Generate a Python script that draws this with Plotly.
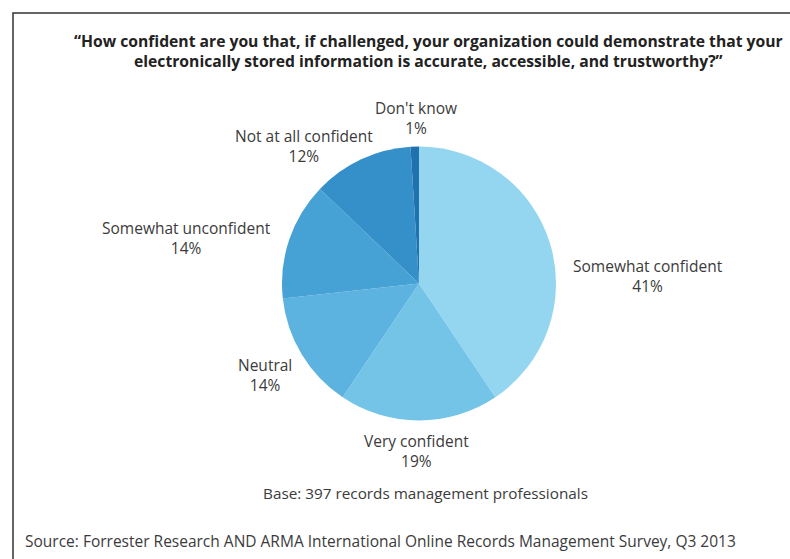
import plotly.graph_objects as go

W, H = 790, 559

categories = ["Somewhat confident", "Very confident", "Neutral",
              "Somewhat unconfident", "Not at all confident", "Don't know"]
values = [41, 19, 14, 14, 12, 1]
colors = ["#94d5ef", "#74c4e8", "#5cb3df", "#46a2d5", "#3590ca", "#1f72ae"]

title_lines = ["\u201cHow confident are you that, if challenged, your organization could demonstrate that your",
               "electronically stored information is accurate, accessible, and trustworthy?\u201d"]
base_note = "Base: 397 records management professionals"
source_note = "Source: Forrester Research AND ARMA International Online Records Management Survey, Q3 2013"

# label block centres in pixels (midpoint between the two lines)
label_pos = [(648, 276), (416, 451), (265, 375), (186, 238), (304, 146), (416, 118)]

def px(x):
    return x / W

def py(y):
    return 1 - y / H

FONT = "Open Sans"
TXT = "#3b3b3b"

fig = go.Figure()
fig.add_trace(go.Pie(
    labels=categories, values=values, sort=False, direction="clockwise",
    rotation=0, marker=dict(colors=colors, line=dict(width=0)),
    textinfo="none", hoverinfo="label+percent", showlegend=False,
    domain=dict(x=[px(282), px(556)], y=[py(421), py(146)]),
))

annotations = []

def add_text(x, y, text, size, color=TXT, anchor="center"):
    annotations.append(dict(
        x=px(x), y=py(y), xref="paper", yref="paper", text=text,
        showarrow=False, xanchor=anchor, yanchor="middle", align="center",
        borderpad=0,
        font=dict(family=FONT, size=size, color=color),
    ))

for (cx, cy), cat, v in zip(label_pos, categories, values):
    add_text(cx, cy, f"{cat}<br>{v}%", 15.5)

add_text(428, 51, "<b>" + "<br>".join(title_lines) + "</b>", 15.7, color="#222222")

add_text(425, 493, base_note, 15.3)
add_text(24, 541, source_note, 15.5, anchor="left")

fig.update_layout(
    width=W, height=H, margin=dict(l=0, r=0, t=0, b=0),
    paper_bgcolor="white", plot_bgcolor="white",
    annotations=annotations,
    shapes=[dict(type="rect", xref="paper", yref="paper",
                 x0=px(13), x1=px(W + 20), y0=py(H + 20), y1=py(13),
                 line=dict(color="#333333", width=1.5))],
)

fig.write_html("out.html")
